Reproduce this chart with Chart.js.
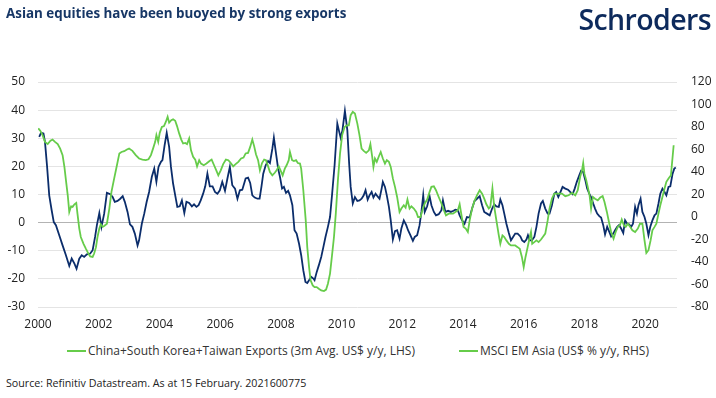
<!DOCTYPE html>
<html>
<head>
<meta charset="utf-8">
<script src="https://cdn.jsdelivr.net/npm/chart.js@4.4.1/dist/chart.umd.min.js"></script>
<style>
  body { margin: 0; background: #fff; font-family: "Open Sans", sans-serif; }
  #page { position: relative; width: 716px; height: 398px; overflow: hidden; }
  #title { position: absolute; left: 6px; top: 4px; font-size: 13.4px; font-weight: 700; color: #173766; }
  #logo { position: absolute; right: 5px; top: 0px; font-size: 28.5px; font-weight: 600; color: #0d2a5c; letter-spacing: -0.6px; }
  #chartBox { position: absolute; left: 0; top: 0; }
  #legend { position: absolute; left: 0; width: 716px; top: 342px; display: flex; justify-content: center; gap: 44px; font-size: 12px; color: #333; }
  #legend span.item { display: flex; align-items: center; }
  #legend span.swatch { display: inline-block; width: 19px; height: 2px; margin-right: 2px; }
  #source { position: absolute; left: 6px; top: 376px; font-size: 10.7px; color: #222; }
</style>
</head>
<body>
<div id="page">
  <div id="chartBox"><canvas id="exportsChart" width="716" height="337"></canvas></div>
  <div id="title">Asian equities have been buoyed by strong exports</div>
  <div id="logo">Schroders</div>
  <div id="legend"></div>
  <div id="source">Source: Refinitiv Datastream. As at 15 February. 2021600775</div>
</div>
<script>
const yearTicks = [2000, 2002, 2004, 2006, 2008, 2010, 2012, 2014, 2016, 2018, 2020];
const seriesNames = ['China+South Korea+Taiwan Exports (3m Avg. US$ y/y, LHS)', 'MSCI EM Asia (US$ % y/y, RHS)'];

// exports, % y/y (left axis)
const exportsDates = [
  2000.04, 2000.10, 2000.18, 2000.23, 2000.30, 2000.37, 2000.45, 2000.52, 2000.59, 2000.70, 2000.81, 2000.92,
  2001.03, 2001.11, 2001.20, 2001.27, 2001.36, 2001.44, 2001.52, 2001.61, 2001.72, 2001.80, 2001.88, 2001.94,
  2002.02, 2002.09, 2002.18, 2002.27, 2002.38, 2002.46, 2002.53, 2002.62, 2002.71, 2002.79, 2002.86, 2002.95,
  2003.03, 2003.11, 2003.19, 2003.28, 2003.33, 2003.42, 2003.50, 2003.58, 2003.66, 2003.75, 2003.83, 2003.90, 2003.97,
  2004.05, 2004.10, 2004.17, 2004.24, 2004.32, 2004.38, 2004.45, 2004.52, 2004.59, 2004.67, 2004.74, 2004.82, 2004.89, 2004.98,
  2005.07, 2005.14, 2005.22, 2005.29, 2005.36, 2005.44, 2005.51, 2005.58, 2005.66, 2005.75, 2005.83, 2005.91, 2005.99,
  2006.07, 2006.16, 2006.24, 2006.32, 2006.40, 2006.49, 2006.57, 2006.65, 2006.73, 2006.84, 2006.92, 2006.99,
  2007.06, 2007.14, 2007.23, 2007.30, 2007.36, 2007.42, 2007.50, 2007.58, 2007.64, 2007.72, 2007.77, 2007.84, 2007.91, 2007.97,
  2008.04, 2008.10, 2008.17, 2008.24, 2008.30, 2008.38, 2008.45, 2008.52, 2008.60, 2008.67, 2008.74, 2008.81, 2008.87, 2008.94,
  2009.00, 2009.07, 2009.11, 2009.18, 2009.25, 2009.33, 2009.40, 2009.47, 2009.55, 2009.62, 2009.69, 2009.77, 2009.86, 2009.91, 2009.97,
  2010.03, 2010.11, 2010.19, 2010.25, 2010.30, 2010.37, 2010.44, 2010.52, 2010.59, 2010.66, 2010.73, 2010.79, 2010.86, 2010.92, 2010.99,
  2011.05, 2011.12, 2011.18, 2011.25, 2011.32, 2011.36, 2011.43, 2011.49, 2011.56, 2011.62, 2011.69, 2011.76, 2011.83, 2011.91, 2011.97,
  2012.05, 2012.13, 2012.19, 2012.27, 2012.35, 2012.41, 2012.49, 2012.57, 2012.63, 2012.69, 2012.74, 2012.82, 2012.90, 2012.96,
  2013.04, 2013.11, 2013.20, 2013.29, 2013.34, 2013.42, 2013.51, 2013.60, 2013.69, 2013.75, 2013.83, 2013.89, 2013.97,
  2014.05, 2014.13, 2014.22, 2014.30, 2014.38, 2014.46, 2014.55, 2014.63, 2014.70, 2014.79, 2014.88, 2014.96,
  2015.03, 2015.10, 2015.18, 2015.23, 2015.30, 2015.36, 2015.43, 2015.51, 2015.58, 2015.65, 2015.72, 2015.80, 2015.89, 2015.95,
  2016.02, 2016.09, 2016.14, 2016.20, 2016.27, 2016.35, 2016.42, 2016.49, 2016.57, 2016.63, 2016.71, 2016.79, 2016.85, 2016.93,
  2017.01, 2017.07, 2017.14, 2017.20, 2017.28, 2017.37, 2017.46, 2017.53, 2017.61, 2017.68, 2017.75, 2017.83, 2017.89, 2017.96,
  2018.03, 2018.09, 2018.16, 2018.22, 2018.29, 2018.35, 2018.42, 2018.49, 2018.55, 2018.62, 2018.68, 2018.75, 2018.82, 2018.88, 2018.95,
  2019.01, 2019.08, 2019.14, 2019.21, 2019.28, 2019.34, 2019.41, 2019.47, 2019.54, 2019.60, 2019.67, 2019.73, 2019.78, 2019.85, 2019.91, 2019.98,
  2020.04, 2020.11, 2020.17, 2020.24, 2020.31, 2020.37, 2020.44, 2020.50, 2020.57, 2020.64, 2020.70, 2020.77, 2020.83, 2020.90, 2020.96, 2021.01
];
const exportsValues = [
  30.5, 31.9, 31.7, 28.7, 19.8, 9.7, 4.4, 0.2, -0.9, -4.5, -8.1, -11.6,
  -15.4, -12.8, -14.6, -16.4, -12.8, -11.6, -12.2, -11.3, -11.0, -9.8, -5.1, -0.9,
  3.4, -1.5, 3.2, 10.6, 10.1, 9.1, 7.4, 7.7, 8.5, 9.4, 7.4, 3.8,
  -0.6, -1.5, -3.9, -8.1, -6.3, -0.4, 3.2, 7.4, 10.9, 16.3, 19.2, 14.5, 19.8,
  21.6, 22.2, 27.5, 31.9, 26.9, 19.8, 13.9, 9.7, 5.6, 5.8, 7.9, 3.4, 7.4, 7.0,
  5.8, 6.5, 5.6, 6.2, 7.9, 10.3, 12.9, 17.4, 12.9, 12.9, 10.9, 10.3, 11.5,
  14.5, 11.3, 15.7, 19.8, 13.3, 12.1, 8.5, 11.5, 11.7, 15.7, 16.0, 14.1,
  9.7, 8.9, 8.5, 8.5, 12.7, 17.4, 20.4, 21.9, 21.2, 26.3, 30.2, 24.6, 19.2, 16.3,
  12.1, 12.7, 10.6, 11.3, 9.7, 6.2, -2.7, -3.9, -7.5, -11.6, -17.0, -21.1, -21.5, -20.3,
  -19.3, -19.9, -20.5, -17.6, -15.2, -12.2, -8.7, -5.1, -1.5, 2.0, 10.3, 20.4, 35.2, 32.9, 30.2,
  32.9, 39.7, 32.9, 21.0, 12.7, 6.8, 9.1, 7.7, 7.9, 8.5, 9.7, 11.5, 8.2, 9.7, 10.9,
  8.9, 10.3, 9.4, 8.5, 12.1, 14.5, 12.7, 9.7, 5.6, 0.8, -6.0, -3.0, -2.7, -5.7, -2.1,
  0.8, -0.9, -2.7, -4.5, -6.5, -5.1, -4.5, -0.9, 3.8, 9.7, 3.8, 5.8, 9.4, 6.2,
  3.8, 2.6, 3.0, 4.4, 7.9, 3.8, 4.2, 3.8, 4.2, 4.6, 4.4, 2.6, 0.8,
  -0.4, 2.0, 1.8, 5.0, 7.7, 8.5, 9.4, 6.2, 3.8, 3.2, 2.6, 5.0,
  6.5, 5.8, 5.6, 8.2, 6.2, 3.2, -0.4, -3.7, -6.3, -5.1, -3.9, -3.9, -4.9, -6.3,
  -6.9, -6.0, -4.5, -6.3, -6.3, -5.1, -1.5, 3.2, 6.8, 7.7, 5.0, 3.2, 3.2, 6.2,
  10.3, 10.9, 9.1, 10.6, 12.7, 12.1, 11.7, 10.9, 10.1, 12.1, 14.5, 16.8, 18.4, 18.0,
  15.1, 12.1, 10.3, 9.1, 6.8, 5.0, 3.2, 2.3, 1.8, -0.9, -4.2, -1.5, -3.3, -4.9, -3.9,
  -2.7, -1.5, -0.9, -2.1, -3.7, 0.8, -0.4, -0.6, -1.5, -0.4, 5.6, 3.2, 6.2, 8.5, 3.8, 2.0,
  -0.4, -4.5, -1.5, 0.8, 2.6, 3.2, 6.8, 10.3, 12.1, 10.9, 9.7, 12.7, 12.9, 17.2, 19.2, 19.6
];

// MSCI EM Asia, US$ % y/y (right axis)
const msciDates = [
  2000.01, 2000.08, 2000.15, 2000.23, 2000.32, 2000.41, 2000.48, 2000.56, 2000.65, 2000.73, 2000.81, 2000.87, 2000.92, 2000.98,
  2001.03, 2001.09, 2001.14, 2001.20, 2001.26, 2001.30, 2001.36, 2001.41, 2001.50, 2001.58, 2001.66, 2001.72, 2001.80, 2001.85, 2001.91, 2001.96,
  2002.02, 2002.07, 2002.13, 2002.18, 2002.27, 2002.35, 2002.42, 2002.51, 2002.60, 2002.68, 2002.75, 2002.84, 2002.93,
  2003.00, 2003.11, 2003.22, 2003.33, 2003.44, 2003.55, 2003.64, 2003.72, 2003.79, 2003.86, 2003.90, 2003.96,
  2004.01, 2004.08, 2004.15, 2004.21, 2004.27, 2004.32, 2004.39, 2004.45, 2004.52, 2004.58, 2004.65, 2004.72, 2004.78, 2004.85, 2004.91, 2004.98,
  2005.04, 2005.11, 2005.18, 2005.24, 2005.31, 2005.37, 2005.46, 2005.55, 2005.64, 2005.72, 2005.80, 2005.88, 2005.94,
  2006.02, 2006.10, 2006.19, 2006.27, 2006.35, 2006.43, 2006.51, 2006.60, 2006.69, 2006.77, 2006.84, 2006.92, 2006.99,
  2007.06, 2007.12, 2007.18, 2007.25, 2007.31, 2007.38, 2007.45, 2007.51, 2007.58, 2007.64, 2007.72, 2007.80, 2007.86, 2007.93, 2007.99,
  2008.06, 2008.13, 2008.19, 2008.26, 2008.30, 2008.37, 2008.43, 2008.50, 2008.56, 2008.63, 2008.67, 2008.74, 2008.82, 2008.87, 2008.93, 2008.98,
  2009.05, 2009.11, 2009.18, 2009.25, 2009.33, 2009.42, 2009.49, 2009.55, 2009.62, 2009.68, 2009.75, 2009.81, 2009.88, 2009.95,
  2010.02, 2010.10, 2010.17, 2010.24, 2010.30, 2010.37, 2010.44, 2010.52, 2010.59, 2010.66, 2010.73, 2010.81, 2010.90, 2010.95,
  2011.01, 2011.05, 2011.10, 2011.16, 2011.23, 2011.29, 2011.36, 2011.43, 2011.49, 2011.56, 2011.62, 2011.69, 2011.76, 2011.83, 2011.91, 2011.97,
  2012.05, 2012.11, 2012.17, 2012.24, 2012.30, 2012.38, 2012.46, 2012.52, 2012.60, 2012.68, 2012.74, 2012.82, 2012.90, 2012.96,
  2013.04, 2013.11, 2013.20, 2013.29, 2013.37, 2013.44, 2013.53, 2013.62, 2013.67, 2013.75, 2013.83, 2013.89, 2013.96,
  2014.02, 2014.09, 2014.16, 2014.22, 2014.30, 2014.38, 2014.46, 2014.55, 2014.63, 2014.70, 2014.77, 2014.85, 2014.90, 2014.97,
  2015.03, 2015.10, 2015.18, 2015.23, 2015.30, 2015.36, 2015.43, 2015.51, 2015.58, 2015.65, 2015.72, 2015.80, 2015.87, 2015.94,
  2016.00, 2016.06, 2016.13, 2016.20, 2016.24, 2016.28, 2016.35, 2016.42, 2016.49, 2016.57, 2016.63, 2016.71, 2016.79, 2016.85, 2016.93,
  2017.01, 2017.10, 2017.26, 2017.37, 2017.48, 2017.59, 2017.70, 2017.78, 2017.86, 2017.92, 2017.96,
  2018.00, 2018.06, 2018.11, 2018.17, 2018.22, 2018.28, 2018.35, 2018.44, 2018.52, 2018.60, 2018.66, 2018.74, 2018.82, 2018.88, 2018.96,
  2019.03, 2019.10, 2019.17, 2019.23, 2019.30, 2019.36, 2019.43, 2019.51, 2019.58, 2019.67, 2019.76, 2019.83, 2019.91, 2019.98,
  2020.04, 2020.11, 2020.18, 2020.24, 2020.31, 2020.37, 2020.44, 2020.50, 2020.57, 2020.64, 2020.70, 2020.77, 2020.85, 2020.94
];
const msciValues = [
  78.8, 76.5, 72.8, 66.8, 64.8, 67.8, 68.8, 66.8, 64.8, 60.8, 55.0, 44.5, 32.8, 19.3,
  4.5, 9.5, 9.0, 11.3, 12.5, 3.0, -10.3, -17.8, -23.8, -28.3, -32.5, -35.0, -35.5, -32.5, -26.8, -17.8,
  -10.3, -6.5, -8.8, -8.0, -6.0, 7.5, 22.3, 34.3, 46.0, 56.5, 57.8, 58.5, 60.0,
  60.8, 58.8, 55.0, 52.0, 51.0, 50.5, 51.3, 55.0, 60.8, 66.8, 72.8, 66.8,
  74.8, 80.0, 80.8, 84.5, 89.0, 83.8, 86.0, 86.8, 85.5, 80.8, 74.3, 68.8, 65.3, 65.8, 64.8, 69.8,
  59.3, 53.5, 51.0, 45.0, 50.5, 47.5, 46.0, 47.5, 49.5, 51.0, 46.0, 41.0, 37.0,
  41.5, 47.0, 51.0, 50.5, 48.0, 45.0, 47.0, 49.0, 52.0, 52.8, 56.5, 57.0, 62.3,
  68.8, 63.0, 55.8, 50.5, 41.5, 48.0, 51.0, 50.5, 45.0, 40.0, 37.0, 39.3, 41.5, 45.0, 41.5,
  37.0, 43.0, 46.0, 50.5, 57.8, 50.5, 49.8, 50.5, 48.0, 47.5, 43.0, 23.8, -3.0, -26.8, -44.5, -56.3,
  -60.8, -62.3, -62.3, -63.8, -65.3, -65.8, -64.5, -59.3, -50.3, -35.5, -17.8, 3.0, 32.8, 56.5,
  72.8, 80.0, 81.5, 81.5, 90.5, 93.5, 92.0, 83.0, 72.8, 60.8, 58.8, 57.0, 59.3, 64.8,
  53.5, 44.5, 52.0, 49.0, 54.0, 57.8, 52.0, 47.5, 50.5, 49.0, 44.5, 34.3, 26.8, 17.8, 4.5, 7.5,
  10.5, 8.3, 15.5, 7.5, 9.5, 7.5, 4.5, 0.0, 0.0, 7.5, 12.0, 15.5, 22.3, 26.8,
  27.3, 23.8, 17.8, 12.0, 6.0, 1.5, 3.0, 3.0, 3.0, 4.5, 6.0, 11.3, 0.0,
  -8.8, -10.3, -13.3, -3.0, 7.5, 14.3, 19.3, 23.8, 20.8, 16.3, 11.3, 7.5, 9.0, 25.3,
  9.0, -3.0, -16.3, -23.8, -16.3, -17.8, -20.8, -23.8, -25.3, -25.3, -25.3, -26.8, -28.3, -35.5,
  -44.5, -35.5, -26.8, -17.8, -13.3, -23.8, -22.3, -20.8, -22.3, -20.0, -17.8, -14.8, -3.0, 7.5, 16.3,
  20.8, 20.8, 20.8, 18.5, 19.3, 21.5, 19.3, 23.8, 35.8, 41.5, 48.0,
  38.5, 32.8, 26.8, 19.3, 7.5, 17.8, 16.3, 14.8, 17.3, 18.5, 13.5, 4.5, -6.0, -13.3, -19.3,
  -13.3, -8.8, -7.3, -2.3, -7.3, -8.8, -6.0, -8.8, -11.8, -13.3, -10.3, -6.0, -6.0, -20.8,
  -32.0, -29.5, -20.8, -11.8, -8.8, -6.0, 3.0, 10.5, 17.8, 25.3, 31.3, 34.3, 37.0, 63.8
];

const navy = '#0b2d6b';
const green = '#66cc4a';

const legend = document.getElementById('legend');
seriesNames.forEach(name => {
  const item = document.createElement('span');
  item.className = 'item';
  item.innerHTML = '<span class="swatch" style="background:' + green + '"></span>' + name;
  legend.appendChild(item);
});

const ctx = document.getElementById('exportsChart').getContext('2d');
new Chart(ctx, {
  type: 'line',
  data: {
    datasets: [{
      label: seriesNames[1],
      data: msciDates.map((d, i) => ({x: d, y: msciValues[i]})),
      yAxisID: 'y2',
      borderColor: green,
      borderWidth: 1.8,
      pointRadius: 0,
      tension: 0
    }, {
      label: seriesNames[0],
      data: exportsDates.map((d, i) => ({x: d, y: exportsValues[i]})),
      yAxisID: 'y',
      borderColor: navy,
      borderWidth: 1.8,
      pointRadius: 0,
      tension: 0
    }]
  },
  options: {
    responsive: false,
    animation: false,
    devicePixelRatio: 1,
    layout: { padding: { top: 82, left: 0, right: 0, bottom: 0 } },
    plugins: {
      legend: { display: false },
      tooltip: { enabled: false }
    },
    scales: {
      x: {
        type: 'linear',
        min: 2000,
        max: 2021.05,
        afterBuildTicks: scale => { scale.ticks = yearTicks.map(v => ({value: v})); },
        afterFit: scale => { scale.height = 30; },
        grid: { display: false, drawTicks: false },
        border: { display: false },
        ticks: {
          padding: 10,
          maxRotation: 0,
          color: '#222',
          font: { family: 'Open Sans', size: 12 },
          callback: v => String(v)
        }
      },
      y: {
        position: 'left',
        min: -30,
        max: 50,
        afterFit: scale => { scale.width = 38; },
        border: { display: false },
        grid: {
          drawTicks: false,
          color: c => c.tick && c.tick.value === 0 ? '#b3b3b3' : '#e4e4e4'
        },
        ticks: {
          stepSize: 10,
          padding: 13,
          color: '#222',
          font: { family: 'Open Sans', size: 12 }
        }
      },
      y2: {
        position: 'right',
        min: -80,
        max: 120,
        afterFit: scale => { scale.width = 39; },
        border: { display: false },
        grid: { display: false, drawTicks: false },
        ticks: {
          stepSize: 20,
          padding: 14,
          color: '#222',
          font: { family: 'Open Sans', size: 12 }
        }
      }
    }
  }
});
</script>
</body>
</html>
